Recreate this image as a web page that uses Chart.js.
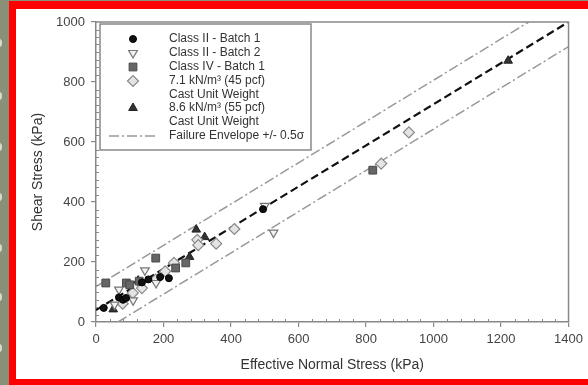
<!DOCTYPE html>
<html>
<head>
<meta charset="utf-8">
<script src="https://cdn.jsdelivr.net/npm/chart.js@4/dist/chart.umd.min.js"></script>
<style>
  body { margin: 0; background: #8a9078; width: 588px; height: 385px; overflow: hidden; position: relative; }
  .frame { position: absolute; left: 9px; top: 1px; width: 579px; height: 384px; box-sizing: border-box;
           background: #fff; border-top: 8px solid #f00; border-left: 7px solid #f00; border-bottom: 6px solid #f00; }
  .bump { position: absolute; left: -3px; width: 5px; height: 8px; border-radius: 50%; background: #d8dccd; }
  canvas { position: absolute; left: 0; top: 0; }
</style>
</head>
<body>
<div class="frame"></div>
<div class="bump" style="top:39px"></div>
<div class="bump" style="top:92px"></div>
<div class="bump" style="top:143px"></div>
<div class="bump" style="top:193px"></div>
<div class="bump" style="top:244px"></div>
<div class="bump" style="top:293px"></div>
<div class="bump" style="top:344px"></div>
<canvas id="myChart" width="588" height="385"></canvas>
<script>
// values (x = effective normal stress, y = shear stress, kPa)
var classII1 = [[23,47],[68,82],[80,74],[89,80],[136,132],[155,142],[190,150],[216,146],[495,376]];
var classII2 = [[55,58],[68,108],[110,72],[145,172],[178,130],[500,387],[526,298]];
var classIV1 = [[29,130],[90,130],[100,124],[128,136],[177,213],[236,180],[266,197],[820,506]];
var cast45 = [[79,61],[109,97],[136,113],[177,141],[205,169],[231,197],[300,274],[303,256],[356,261],[410,310],[845,528],[927,632]];
var cast55 = [[51,42],[125,138],[277,217],[297,308],[322,283],[1221,871]];
var envelope = [[0,40],[1400,1000]];
var envelopeUp = [[0,118],[1282,1000]];
var envelopeLow = [[65,0],[1400,918]];

var xTicks = [0,200,400,600,800,1000,1200,1400];
var yTicks = [0,200,400,600,800,1000];

var legendLabels = ['Class II - Batch 1','Class II - Batch 2','Class IV - Batch 1','7.1 kN/m\u00b3 (45 pcf)','Cast Unit Weight','8.6 kN/m\u00b3 (55 pcf)','Cast Unit Weight','Failure Envelope +/- 0.5\u03c3'];

function pts(a){ return a.map(function(p){ return {x:p[0], y:p[1]}; }); }

var FONT = '"Liberation Sans", Arial, sans-serif';

var marks = {
  c1: {pointStyle:'circle', radius:3.5, backgroundColor:'#111', borderColor:'#000', borderWidth:1, rotation:0},
  c2: {pointStyle:'triangle', radius:5, backgroundColor:'#f2f2f2', borderColor:'#777', borderWidth:1.2, rotation:180},
  c4: {pointStyle:'rect', radius:5.5, backgroundColor:'#666', borderColor:'#4a4a4a', borderWidth:1, rotation:0},
  d45: {pointStyle:'rectRot', radius:5.5, backgroundColor:'#e4e4e4', borderColor:'#888', borderWidth:1.2, rotation:0},
  t55: {pointStyle:'triangle', radius:5, backgroundColor:'#333', borderColor:'#222', borderWidth:1, rotation:0}
};

function scatterSet(label, data, m){
  return {label:label, data:pts(data), showLine:false, pointStyle:m.pointStyle, pointRadius:m.radius,
          pointRotation:m.rotation, pointBackgroundColor:m.backgroundColor, pointBorderColor:m.borderColor,
          pointBorderWidth:m.borderWidth, order:1};
}
function lineSet(label, data, color, width, dash){
  return {label:label, data:pts(data), showLine:true, pointRadius:0, borderColor:color, borderWidth:width,
          borderDash:dash, fill:false, order:2};
}

var boxPlugin = {
  id: 'box',
  afterDraw: function(chart){
    var ctx = chart.ctx, a = chart.chartArea, xs = chart.scales.x, ys = chart.scales.y;
    ctx.save();
    ctx.strokeStyle = '#888'; ctx.lineWidth = 1.5;
    ctx.beginPath();
    ctx.moveTo(a.left, a.top); ctx.lineTo(a.right, a.top); ctx.lineTo(a.right, a.bottom);
    ctx.stroke();
    // minor ticks pointing inward
    ctx.lineWidth = 1;
    ctx.beginPath();
    for (var v = 40; v < 1400; v += 40) {
      if (v % 200 === 0) continue;
      var px = Math.round(xs.getPixelForValue(v)) + 0.5;
      ctx.moveTo(px, a.bottom); ctx.lineTo(px, a.bottom - 3);
    }
    for (var w = 25; w < 1000; w += 25) {
      if (w % 200 === 0) continue;
      var py = Math.round(ys.getPixelForValue(w)) + 0.5;
      ctx.moveTo(a.left, py); ctx.lineTo(a.left + 3, py);
    }
    ctx.stroke();

    // legend
    var lx = 100, ly = 24, lw = 211, lh = 126;
    ctx.fillStyle = '#fff';
    ctx.fillRect(lx, ly, lw, lh);
    ctx.strokeStyle = '#888'; ctx.lineWidth = 1.5;
    ctx.strokeRect(lx, ly, lw, lh);
    var rows = [39, 53, 67, 81, 95, 108, 122, 136];
    var syms = [marks.c1, marks.c2, marks.c4, marks.d45, null, marks.t55, null, null];
    ctx.font = '12px ' + FONT;
    ctx.textBaseline = 'middle';
    ctx.textAlign = 'left';
    for (var i = 0; i < rows.length; i++) {
      ctx.fillStyle = '#333';
      ctx.fillText(legendLabels[i], 169, rows[i]);
      var m = syms[i];
      if (m) {
        ctx.fillStyle = m.backgroundColor; ctx.strokeStyle = m.borderColor; ctx.lineWidth = m.borderWidth;
        Chart.helpers.drawPoint(ctx, {pointStyle:m.pointStyle, radius:m.radius, rotation:m.rotation, borderWidth:m.borderWidth}, 133, rows[i]);
      }
    }
    ctx.strokeStyle = '#999'; ctx.lineWidth = 1.5;
    ctx.setLineDash([10, 3, 2, 3]);
    ctx.beginPath(); ctx.moveTo(109, 136); ctx.lineTo(158, 136); ctx.stroke();
    ctx.restore();
  }
};

function plain(v){ return String(v); }

function main(){
  var ctx = document.getElementById('myChart').getContext('2d');
  new Chart(ctx, {
    type: 'scatter',
    data: {
      datasets: [
        scatterSet(legendLabels[0], classII1, marks.c1),
        scatterSet(legendLabels[1], classII2, marks.c2),
        scatterSet(legendLabels[2], classIV1, marks.c4),
        scatterSet(legendLabels[3], cast45, marks.d45),
        scatterSet(legendLabels[5], cast55, marks.t55),
        lineSet('Failure Envelope', envelope, '#111', 2.2, [8, 4]),
        lineSet(legendLabels[7], envelopeUp, '#999', 1.5, [10, 3, 2, 3]),
        lineSet('lower', envelopeLow, '#999', 1.5, [10, 3, 2, 3])
      ]
    },
    options: {
      responsive: false,
      animation: false,
      layout: {padding: {left: 17, top: 22, right: 18, bottom: 6}},
      plugins: {legend: {display: false}, tooltip: {enabled: false}},
      scales: {
        x: {
          type: 'linear', min: 0, max: 1400,
          afterBuildTicks: function(s){ s.ticks = xTicks.map(function(v){ return {value:v}; }); },
          ticks: {color: '#444', font: {size: 13, family: FONT}, padding: 5, maxRotation: 0, callback: plain},
          grid: {drawOnChartArea: false, drawTicks: true, tickLength: 5, color: '#888', lineWidth: 1.2},
          border: {display: true, color: '#888', width: 1.5},
          title: {display: true, text: 'Effective Normal Stress (kPa)', color: '#333', font: {size: 14, family: FONT}, padding: {top: 0, bottom: 5}},
          afterFit: function(s){ s.height = 57; }
        },
        y: {
          type: 'linear', min: 0, max: 1000,
          afterBuildTicks: function(s){ s.ticks = yTicks.map(function(v){ return {value:v}; }); },
          ticks: {color: '#444', font: {size: 13, family: FONT}, padding: 6, callback: plain},
          grid: {drawOnChartArea: false, drawTicks: true, tickLength: 5, color: '#888', lineWidth: 1.2},
          border: {display: true, color: '#888', width: 1.5},
          title: {display: true, text: 'Shear Stress (kPa)', color: '#333', font: {size: 14, family: FONT}, padding: {top: 13, bottom: 0}},
          afterFit: function(s){ s.width = 79; }
        }
      }
    },
    plugins: [boxPlugin]
  });
}

document.addEventListener('DOMContentLoaded', function(){ main(); });
</script>
</body>
</html>
